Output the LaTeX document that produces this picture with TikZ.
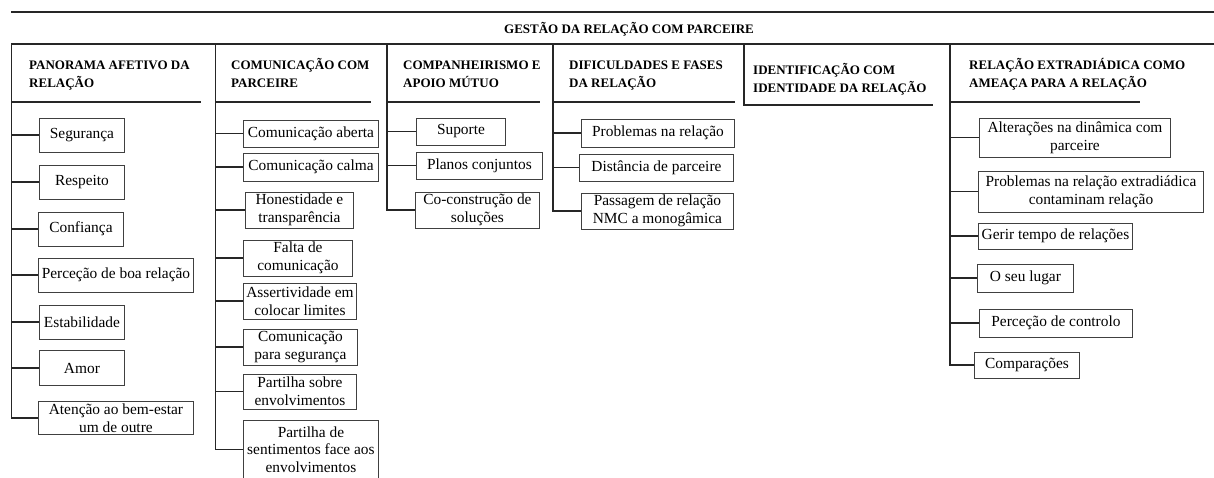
\documentclass[tikz,border=0pt]{standalone}
\usepackage{fontspec}
\setmainfont{Liberation Serif}
\tikzset{
  hd/.style={font=\fontsize{13}{18}\selectfont\bfseries, align=left, inner sep=0pt, anchor=base west},
  it/.style={draw=black!75, line width=0.9pt, font=\fontsize{15.4}{17.7}\selectfont, align=center, inner xsep=2pt, inner ysep=0pt, anchor=west},
  ln/.style={black!85, line width=1.3pt}
}
\begin{document}
\begin{tikzpicture}[x=1pt,y=-1pt]
  \useasboundingbox (0,0) rectangle (1214,477);

  % title and frame
  \coordinate (l0) at (11,12);
  \coordinate (l1) at (11,44);
  \node[font=\fontsize{13}{16}\selectfont\bfseries] (title) at (629,29) {GESTÃO DA RELAÇÃO COM PARCEIRE};
  \draw[ln] (l0) -- ++(1203,0);
  \draw[ln] (l1) -- ++(1203,0);

  \coordinate (t1) at (11.5,44);
  \coordinate (t2) at (215.5,44);
  \coordinate (t3) at (387,44);
  \coordinate (t4) at (553,44);
  \coordinate (t5) at (744,44);
  \coordinate (t6) at (950,44);

  % headers (base = last line)
  \node[hd] (h1) at (29,87.5) {PANORAMA AFETIVO DA\\RELAÇÃO};
  \node[hd] (h2) at (231,87.5) {COMUNICAÇÃO COM\\PARCEIRE};
  \node[hd] (h3) at (403,87.5) {COMPANHEIRISMO E\\APOIO MÚTUO};
  \node[hd] (h4) at (569,87.5) {DIFICULDADES E FASES\\DA RELAÇÃO};
  \node[hd] (h5) at (753,92) {IDENTIFICAÇÃO COM\\IDENTIDADE DA RELAÇÃO};
  \node[hd] (h6) at (969,87.5) {RELAÇÃO EXTRADIÁDICA COMO\\AMEAÇA PARA A RELAÇÃO};

  \draw[ln] (t1 |- 0,102) -- (201,102);
  \draw[ln] (t2 |- 0,102) -- (371,102);
  \draw[ln] (t3 |- 0,102) -- (540,102);
  \draw[ln] (t4 |- 0,102) -- (735,102);
  \draw[ln] (t5) -- (t5 |- 0,105) -- (933,105);
  \draw[ln] (t6 |- 0,102) -- (1140,102);

  % panorama afetivo
  \node[it, minimum width=85, minimum height=34] (a1) at (39,135) {Segurança};
  \node[it, minimum width=85, minimum height=34] (a2) at (39,182) {Respeito};
  \node[it, minimum width=85, minimum height=34] (a3) at (38,229) {Confiança};
  \node[it, minimum width=155, minimum height=34] (a4) at (38,275) {Perceção de boa relação};
  \node[it, minimum width=85, minimum height=34] (a5) at (39,322) {Estabilidade};
  \node[it, minimum width=85, minimum height=35] (a6) at (39,368) {Amor};
  \node[it, minimum width=155, minimum height=33] (a7) at (38,418) {Atenção ao bem-estar\\um de outre};
  \draw[ln] (t1) |- (a7.west);
  \foreach \n in {a1,a2,a3,a4,a5,a6}
    \draw[ln] (t1 |- \n.west) -- (\n.west);

  % comunicacao
  \node[it, minimum width=135, minimum height=27] (b1) at (243,133.5) {Comunicação aberta};
  \node[it, minimum width=135, minimum height=28] (b2) at (243,167) {Comunicação calma};
  \node[it, minimum width=108, minimum height=36] (b3) at (245,210) {Honestidade e\\transparência};
  \node[it, minimum width=109, minimum height=36] (b4) at (243,258) {Falta de\\comunicação};
  \node[it, minimum width=113, minimum height=36] (b5) at (243,301) {Assertividade em\\colocar limites};
  \node[it, minimum width=114, minimum height=36] (b6) at (243,347) {Comunicação\\para segurança};
  \node[it, minimum width=113, minimum height=35] (b7) at (243,391.5) {Partilha sobre\\envolvimentos};
  \node[it, minimum width=135, minimum height=58, anchor=north west] (b8) at (243,420) {Partilha de\\sentimentos face aos\\envolvimentos};
  \draw[ln] (t2) |- (b8.west);
  \foreach \n in {b1,b2,b3,b4,b5,b6,b7}
    \draw[ln] (t2 |- \n.west) -- (\n.west);

  % companheirismo
  \node[it, minimum width=89, minimum height=27] (c1) at (416,131.5) {Suporte};
  \node[it, minimum width=126, minimum height=27] (c2) at (416,165.5) {Planos conjuntos};
  \node[it, minimum width=124, minimum height=36] (c3) at (415,210) {Co-construção de\\soluções};
  \draw[ln] (t3) |- (c3.west);
  \foreach \n in {c1,c2}
    \draw[ln] (t3 |- \n.west) -- (\n.west);

  % dificuldades
  \node[it, minimum width=153, minimum height=28] (d1) at (581,133) {Problemas na relação};
  \node[it, minimum width=154, minimum height=27] (d2) at (579,167.5) {Distância de parceire};
  \node[it, minimum width=152, minimum height=36] (d3) at (581,211) {Passagem de relação\\NMC a monogâmica};
  \draw[ln] (t4) |- (d3.west);
  \foreach \n in {d1,d2}
    \draw[ln] (t4 |- \n.west) -- (\n.west);

  % relacao extradiadica
  \node[it, minimum width=191, minimum height=39] (f1) at (979,137.5) {Alterações na dinâmica com\\parceire};
  \node[it, minimum width=225, minimum height=41] (f2) at (978,191.5) {Problemas na relação extradiádica\\contaminam relação};
  \node[it, minimum width=154, minimum height=26] (f3) at (978,236) {Gerir tempo de relações};
  \node[it, minimum width=96, minimum height=28] (f4) at (977,278) {O seu lugar};
  \node[it, minimum width=153, minimum height=28] (f5) at (979,323) {Perceção de controlo};
  \node[it, minimum width=105, minimum height=26] (f6) at (974,365) {Comparações};
  \draw[ln] (t6) |- (f6.west);
  \foreach \n in {f1,f2,f3,f4,f5}
    \draw[ln] (t6 |- \n.west) -- (\n.west);
\end{tikzpicture}
\end{document}
